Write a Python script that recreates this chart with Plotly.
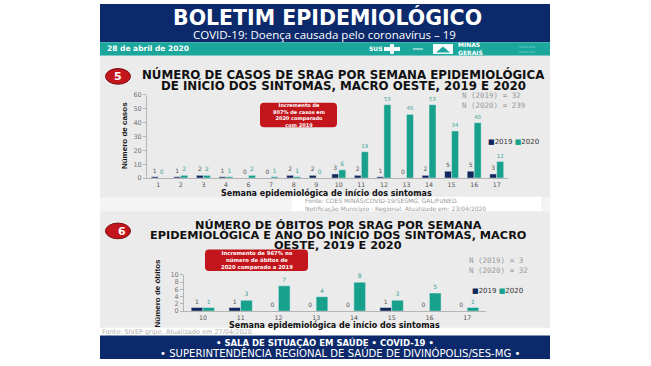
import plotly.graph_objects as go

# ---------------- data ----------------
weeks_cases = ["1", "2", "3", "4", "6", "7", "8", "9", "10", "11", "12", "13", "14", "15", "16", "17"]
cases_2019 = [1, 1, 2, 1, 0, 0, 2, 2, 3, 2, 1, 0, 2, 5, 5, 3]
cases_2020 = [0, 2, 2, 1, 2, 1, 1, 0, 6, 19, 53, 46, 53, 34, 40, 12]
cases_ticks = [0, 10, 20, 30, 40, 50, 60]

weeks_deaths = ["10", "11", "12", "13", "14", "15", "16", "17"]
deaths_2019 = [1, 1, 0, 0, 0, 1, 0, 0]
deaths_2020 = [1, 3, 7, 4, 8, 3, 5, 1]
deaths_ticks = [0, 2, 4, 6, 8, 10]

# ---------------- style ----------------
W, H = 651, 366
NAVY = "#13275c"
TEAL = "#17a08b"
HEAD = "#0c2a6b"
BAND = "#1ca79c"
RED = "#c3161c"
PANEL = "#ebebeb"
FONT = "DejaVu Sans"


def px(x):
    return x / W


def py(y):
    return 1 - y / H


fig = go.Figure()

# chart 1 bars
fig.add_trace(go.Bar(x=weeks_cases, y=cases_2019, name="2019", marker_color=NAVY,
                     text=cases_2019, textposition="outside", cliponaxis=False,
                     textfont=dict(size=6, color="#555555", family=FONT),
                     xaxis="x", yaxis="y", showlegend=False))
fig.add_trace(go.Bar(x=weeks_cases, y=cases_2020, name="2020", marker_color=TEAL,
                     text=cases_2020, textposition="outside", cliponaxis=False,
                     textfont=dict(size=6, color="#3aa596", family=FONT),
                     xaxis="x", yaxis="y", showlegend=False))
# chart 2 bars
fig.add_trace(go.Bar(x=weeks_deaths, y=deaths_2019, name="2019", marker_color=NAVY,
                     text=deaths_2019, textposition="outside", cliponaxis=False,
                     textfont=dict(size=6, color="#555555", family=FONT),
                     xaxis="x2", yaxis="y2", showlegend=False))
fig.add_trace(go.Bar(x=weeks_deaths, y=deaths_2020, name="2020", marker_color=TEAL,
                     text=deaths_2020, textposition="outside", cliponaxis=False,
                     textfont=dict(size=6, color="#3aa596", family=FONT),
                     xaxis="x2", yaxis="y2", showlegend=False))

axis_common = dict(showgrid=False, zeroline=False, showline=True, linecolor="#b5b5b5",
                   linewidth=1, fixedrange=True)
yaxis_common = dict(tickfont=dict(size=6.5, color="#777777", family=FONT),
                    ticks="outside", ticklen=3, tickcolor="#b5b5b5", **axis_common)
xaxis_common = dict(tickfont=dict(size=6.3, color="#555555", family=FONT),
                    ticks="", type="category", tickmode="array", tickangle=0, **axis_common)

shapes = []


def rect(x0, y0, x1, y1, color, layer="below"):
    shapes.append(dict(type="rect", xref="paper", yref="paper", x0=px(x0), x1=px(x1),
                       y0=py(y1), y1=py(y0), fillcolor=color, line=dict(width=0), layer=layer))


def rrect(x0, y0, x1, y1, r, color):
    # rounded rectangle via path, in paper coords
    X0, X1 = px(x0), px(x1)
    Y0, Y1 = py(y1), py(y0)
    rx, ry = r / W, r / H
    path = (f"M{X0+rx},{Y0} L{X1-rx},{Y0} Q{X1},{Y0} {X1},{Y0+ry} L{X1},{Y1-ry} "
            f"Q{X1},{Y1} {X1-rx},{Y1} L{X0+rx},{Y1} Q{X0},{Y1} {X0},{Y1-ry} "
            f"L{X0},{Y0+ry} Q{X0},{Y0} {X0+rx},{Y0} Z")
    shapes.append(dict(type="path", xref="paper", yref="paper", path=path,
                       fillcolor=color, line=dict(width=0), layer="below"))


def ellipse(cx, cy, rx, ry, color):
    shapes.append(dict(type="circle", xref="paper", yref="paper", x0=px(cx - rx), x1=px(cx + rx),
                       y0=py(cy + ry), y1=py(cy - ry), fillcolor=color,
                       line=dict(width=1, color="#7a0d10"), layer="below"))


# backgrounds
rect(100, 0, 550, 39, HEAD)
rect(100, 39, 550, 53, BAND)
rect(100, 53, 550, 198, PANEL)
rect(100, 198, 550, 212, "#f4f4f4")
rect(292, 197, 541, 213, "#ffffff")
rect(100, 212, 550, 331, PANEL)
rect(100, 339, 550, 363, HEAD)

# logos in teal band
rect(384, 44, 400, 48, "#ffffff", layer="above")
rect(390, 41, 394, 51, "#ffffff", layer="above")
rect(413, 45.5, 423, 46.5, "#ffffff", layer="above")
rect(433, 41, 453, 51, "#ffffff", layer="above")
shapes.append(dict(type="path", xref="paper", yref="paper",
                   path=f"M{px(436)},{py(49.5)} L{px(443)},{py(43.5)} L{px(450)},{py(49.5)} Z",
                   fillcolor=BAND, line=dict(width=0), layer="above"))

# section badges
ellipse(118, 74, 12.5, 8, RED)
ellipse(118, 232, 12.5, 8, RED)

# red callouts
rrect(260, 101, 337, 126, 4, RED)
rrect(205, 251, 308, 273, 4, RED)

annotations = []


def text(x, y, s, size, color="#000000", bold=False, anchor="center", family=FONT, angle=0):
    if bold:
        s = "<b>" + s + "</b>"
    annotations.append(dict(xref="paper", yref="paper", x=px(x), y=py(y), text=s,
                            showarrow=False, xanchor=anchor, yanchor="middle",
                            font=dict(size=size, color=color, family=family),
                            textangle=angle, align="left" if anchor == "left" else "center"))


# header
text(327, 13.5, "BOLETIM EPIDEMIOLÓGICO", 20.5, "#ffffff", bold=True)
text(324, 31.5, "COVID-19: Doença causada pelo coronavírus – 19", 11.5, "#ffffff", family="Open Sans")
text(105, 46, "28 de abril de 2020", 7.5, "#ffffff", bold=True, anchor="left")
text(367, 46, "SUS", 6, "#ffffff", bold=True, anchor="left")
text(456, 46, "MINAS<br>GERAIS", 6, "#ffffff", bold=True, anchor="left")
text(517, 46, "::::::::::::<br>::::::::::::", 4, "#d8f2ee", anchor="left")

# section 5
text(118, 74.5, "5", 11, "#ffffff", bold=True)
text(343, 72.5, "NÚMERO DE CASOS DE SRAG POR SEMANA EPIDEMIOLÓGICA", 11.8, "#111111", bold=True)
text(343, 83.5, "DE INÍCIO DOS SINTOMAS, MACRO OESTE, 2019 E 2020", 11.8, "#111111", bold=True)
text(298.5, 113.5, "Incremento de<br>807% de casos em<br>2020 comparado<br>com 2019", 5, "#ffffff", bold=True)
text(460, 98.5, "N (2019) = 32<br>N (2020) = 239", 7.5, "#9a9a9a", anchor="left", family="DejaVu Sans Mono")
text(486, 141,
     f"<span style='color:{NAVY}'>■</span>2019 <span style='color:{TEAL}'>■</span>2020",
     7, "#333333", anchor="left")
text(124, 135, "Número de casos", 8, "#111111", bold=True, family="Liberation Sans Narrow, Liberation Sans", angle=-90)
text(326, 193, "Semana epidemiológica de início dos sintomas", 8, "#111111", bold=True)
text(303, 205.5, "Fonte: COES MINAS/COVID-19/SESMG. GAL/FUNED.<br>Notificação Município - Regional. Atualizado em: 23/04/2020",
     6, "#9a9a9a", anchor="left")

# section 6
text(122, 232.5, "6", 11, "#ffffff", bold=True)
text(338, 226, "NÚMERO DE ÓBITOS POR SRAG POR SEMANA", 11.3, "#111111", bold=True)
text(338, 236.5, "EPIDEMIOLÓGICA E ANO DO INÍCIO DOS SINTOMAS, MACRO", 11.3, "#111111", bold=True)
text(338, 247, "OESTE, 2019 E 2020", 11.3, "#111111", bold=True)
text(256.5, 262, "Incremento de 967% no<br>número de óbitos de<br>2020 comparado a 2019", 5.3, "#ffffff", bold=True)
text(467, 267, "N (2019) = 3<br>N (2020) = 32", 7.5, "#9a9a9a", anchor="left", family="DejaVu Sans Mono")
text(470, 293,
     f"<span style='color:{NAVY}'>■</span>2019 <span style='color:{TEAL}'>■</span>2020",
     7, "#333333", anchor="left")
text(158, 296, "Número de óbitos", 8, "#111111", bold=True, family="Liberation Sans Narrow, Liberation Sans", angle=-90)
text(335, 328.5, "Semana epidemiológica de início dos sintomas", 8, "#111111", bold=True)
text(100, 335, "Fonte: SIVEP gripe. Atualizado em 27/04/2020", 6.5, "#b0b0b0", anchor="left")

# footer
text(325, 346, "• SALA DE SITUAÇÃO EM SAÚDE • COVID-19 •", 8.5, "#ffffff", bold=True)
text(340, 356.5, "• SUPERINTENDÊNCIA REGIONAL DE SAÚDE DE DIVINÓPOLIS/SES-MG •", 10.1, "#ffffff", family=FONT)

fig.update_layout(
    width=W, height=H, margin=dict(l=0, r=0, t=0, b=0),
    paper_bgcolor="#ffffff", plot_bgcolor="rgba(0,0,0,0)",
    barmode="group", bargap=0.38, bargroupgap=0,
    showlegend=False,
    shapes=shapes, annotations=annotations,
    xaxis=dict(domain=[px(147), px(508)], range=[-0.5, 15.5],
               tickvals=weeks_cases, ticktext=weeks_cases,
               anchor="y", **xaxis_common),
    yaxis=dict(domain=[py(178), py(93)], range=[0, 60], tickvals=cases_ticks,
               anchor="x", **yaxis_common),
    xaxis2=dict(domain=[px(184), px(486)], range=[-0.5, 7.5],
                tickvals=weeks_deaths, ticktext=weeks_deaths,
                anchor="y2", **xaxis_common),
    yaxis2=dict(domain=[py(314), py(277)], range=[0, 10], tickvals=deaths_ticks,
                anchor="x2", **yaxis_common),
)

fig.write_html("out.html", config={"displayModeBar": False},
               post_script="document.body.style.margin='0px';document.body.style.overflow='hidden';")
